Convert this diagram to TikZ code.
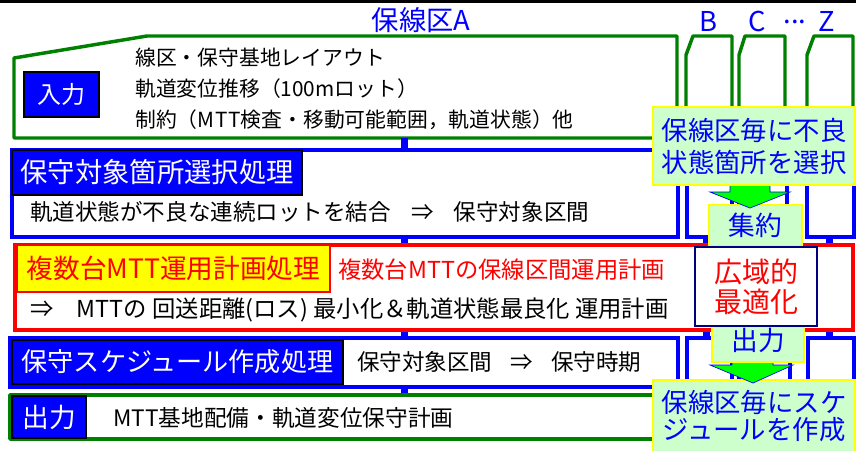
\documentclass[tikz,border=0pt]{standalone}
\usepackage{fontspec}
\setmainfont{Noto Sans CJK JP}
\definecolor{bblue}{HTML}{0000FF}
\definecolor{ggreen}{HTML}{008000}
\definecolor{lgreen}{HTML}{CCFFCC}
\definecolor{agreen}{HTML}{00FF00}
\definecolor{navyb}{HTML}{000080}
\definecolor{yel}{HTML}{FFFF00}
\definecolor{rred}{HTML}{FF0000}
\newcommand{\fsz}[2]{\fontsize{#1}{#2}\selectfont}
\begin{document}
\begin{tikzpicture}[x=0.75pt,y=-0.75pt,
  gline/.style={draw=ggreen,line width=2.6pt,line join=round},
  bline/.style={draw=bblue,line width=2.3pt},
  rline/.style={draw=rred,line width=2.6pt},
  stub/.style={fill=bblue},
  box/.style 2 args={inner sep=0pt,outer sep=0pt,minimum width=#1,minimum height=#2},
  hdr/.style={fill=bblue,draw=black,line width=1.5pt,text=white},
  rhdr/.style={fill=yel,draw=rred,line width=1.5pt,text=rred},
  callout/.style={fill=lgreen,draw=yel,line width=1.5pt,text=bblue,align=center},
  body/.style={anchor=west,inner sep=0pt,text=black},
  lbl/.style={inner sep=0pt,text=bblue,font=\fsz{20.5}{24}},
  arr/.style={fill=agreen,draw=bblue,line width=0.5pt,line join=miter}]
\useasboundingbox (0,0) rectangle (856,450);
% top rule
\draw[line width=2pt] (0,1.5) -- (856,1.5);
% titles
\node[lbl] (tA) at (421,20) {保線区A};
\node[lbl] (tB) at (708,21.5) {B};
\node[lbl] (tC) at (757,21.5) {C};
\node[lbl] (tD) at (795,21.5) {...};
\node[lbl] (tZ) at (827,21.5) {Z};
% green input outlines
\draw[gline] (14,58) -- (147,36) -- (677,36) -- (677,138) -- (14,138) -- cycle;
\draw[gline] (686,115) -- (686,55) -- (693,36) -- (732,36) -- (732,115);
\draw[gline] (739,115) -- (739,55) -- (745,36) -- (785,36) -- (785,115);
\draw[gline] (807,115) -- (807,55) -- (814,36) -- (853,36) -- (853,115);
% stubs
\fill[stub] (401,138) rectangle (408,150);
\fill[stub] (401,237) rectangle (408,245);
\fill[stub] (401,330) rectangle (408,338);
\fill[stub] (401,387) rectangle (408,395);
\fill[stub] (703,237) rectangle (710,245);
\fill[stub] (826,237) rectangle (833,245);
\fill[stub] (703,330) rectangle (710,338);
\fill[stub] (826,330) rectangle (833,338);
% blue selection row
\draw[bline] (12,150) rectangle (678,237);
\draw[bline] (687,150) rectangle (732,237);
\draw[bline] (739,150) rectangle (787,237);
\draw[bline] (807,150) rectangle (854,237);
% red row
\draw[rline] (15,245) rectangle (853,330);
% blue schedule row
\draw[bline] (10,338) rectangle (678,387);
\draw[bline] (687,338) rectangle (732,392);
\draw[bline] (739,338) rectangle (790,392);
\draw[bline] (808,338) rectangle (854,392);
% green output row
\draw[gline] (10,395) rectangle (677,439);
% headers
\node[box={56.25pt}{33.75pt},hdr,font=\fsz{18}{20}] (hin) at (61.5,94.5) {入力};
\node[box={217.5pt}{33.75pt},hdr,font=\fsz{20.5}{24}] (hsel) at (157,172.5) {保守対象箇所選択処理};
\node[box={234.75pt}{35.25pt},rhdr,font=\fsz{20}{24}] (hmtt) at (173.5,268.5) {複数台MTT運用計画処理};
\node[box={248.25pt}{33pt},hdr,font=\fsz{19.6}{24}] (hsch) at (177.5,362) {保守スケジュール作成処理};
\node[box={55.5pt}{31.5pt},hdr,font=\fsz{20}{24}] (hout) at (49,417) {出力};
% body texts
\node[body,font=\fsz{15.6}{18}] (i1) at (135,58) {線区・保守基地レイアウト};
\node[body,font=\fsz{15.6}{18}] (i2) at (135,89) {軌道変位推移（100mロット）};
\node[body,font=\fsz{15.6}{18}] (i3) at (135,120) {制約（M\kern0.5ptT\kern0.5ptT検査・移動可能範囲，軌道状態）他};
\node[body,font=\fsz{16.9}{20}] (s1) at (30,212) {軌道状態が不良な連続ロットを結合\hspace{0.9em}⇒\hspace{0.9em}保守対象区間};
\node[body,font=\fsz{17.5}{20},text=rred] (m1) at (338,270) {複数台MTTの保線区間運用計画};
\node[body,font=\fsz{17.5}{20}] (m2) at (30,310) {⇒\hspace{1em}MTTの 回送距離(ロス) 最小化＆軌道状態最良化 運用計画};
\node[body,font=\fsz{16.9}{20}] (c1) at (357,362) {保守対象区間\hspace{0.8em}⇒\hspace{0.8em}保守時期};
\node[body,font=\fsz{17}{20}] (o1) at (113,418) {MTT基地配備・軌道変位保守計画};
% aggregation flow
\node[box={69.75pt}{30.75pt},callout,font=\fsz{20}{24}] (agg) at (755.5,225.5) {集約};
\draw[arr] (730,180) -- (770,180) -- (770,192) -- (790,192) -- (750,208) -- (710,192) -- (730,192) -- cycle;
\node[box={151.5pt}{58.5pt},callout,font=\fsz{19.8}{24}] (cs1) at (754,146) {保線区毎に不良\\状態箇所を選択};
\node[box={151.5pt}{54pt},callout,font=\fsz{19.8}{20.5}] (cs3) at (754,416) {保線区毎にスケ\\ジュールを作成};
\draw[arr] (732,356) -- (773,356) -- (773,365) -- (793,365) -- (753,383) -- (710,365) -- (732,365) -- cycle;
\node[box={69pt}{33pt},callout,font=\fsz{20}{24}] (outc) at (758,340) {出力};
\node[box={91.5pt}{59.25pt},fill=white,draw=navyb,line width=1.6pt,text=rred,align=center,font=\fsz{21}{22.5}] (wide) at (756,286.5) {広域的\\最適化};
\end{tikzpicture}
\end{document}
